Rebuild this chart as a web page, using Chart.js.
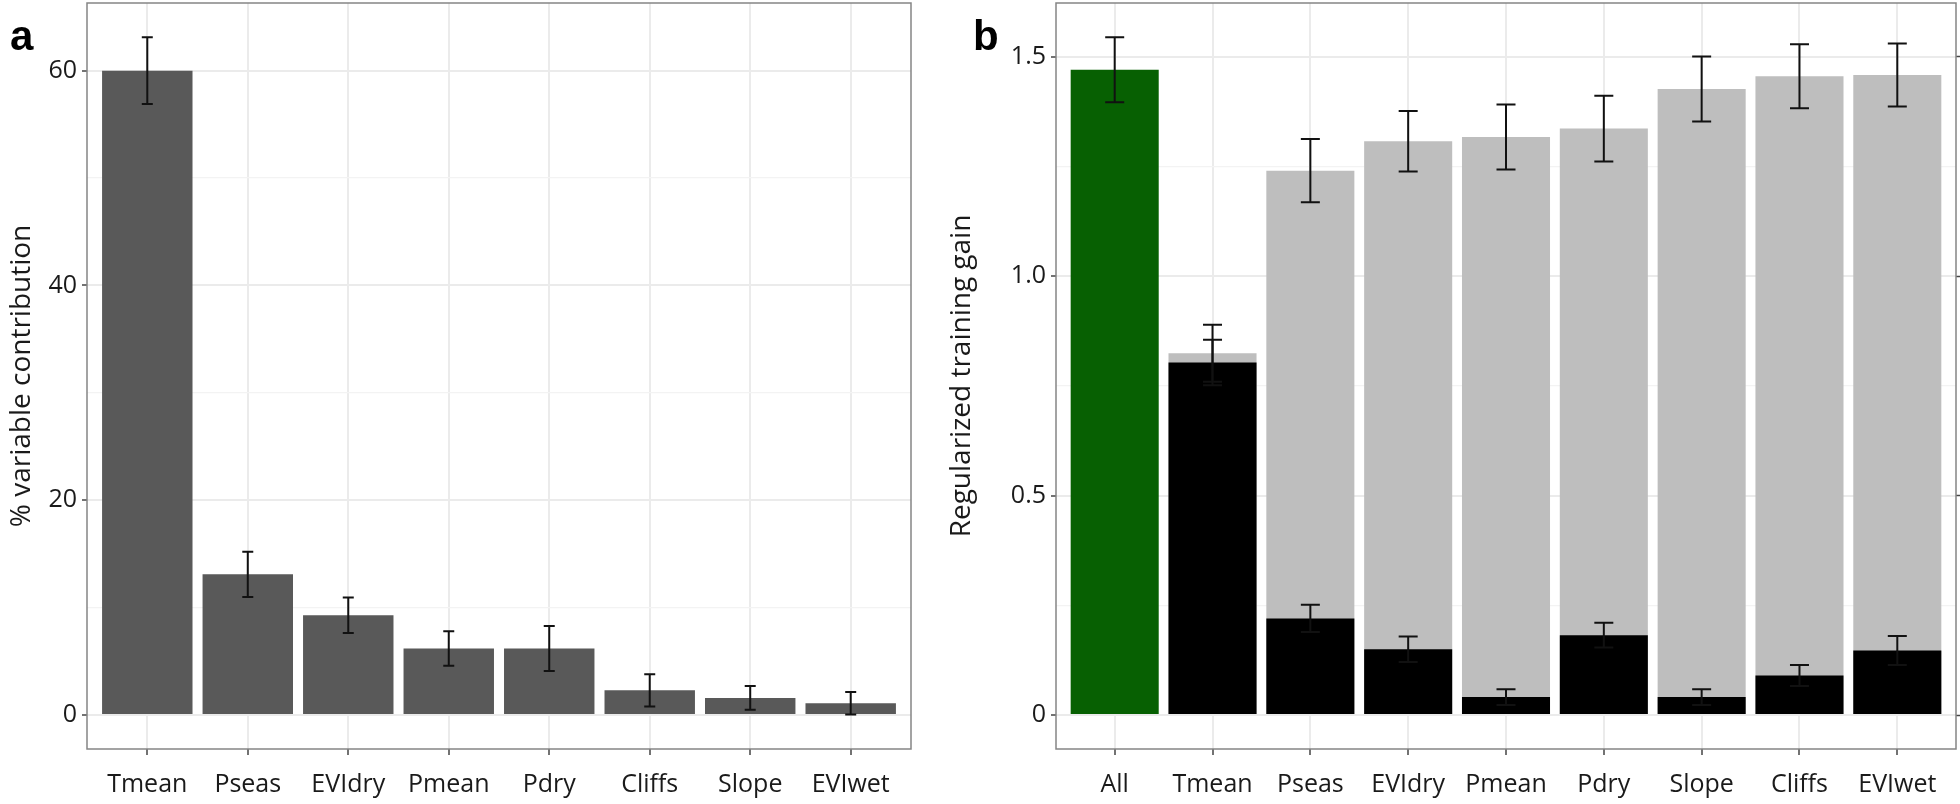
<!DOCTYPE html>
<html>
<head>
<meta charset="utf-8">
<script src="https://cdn.jsdelivr.net/npm/chart.js@4.4.1/dist/chart.umd.min.js"></script>
<style>
  html, body { margin: 0; padding: 0; background: #fff; }
  body { width: 1960px; height: 804px; position: relative; overflow: hidden; }
  canvas { position: absolute; top: 0; }
  #panelA { left: 0; }
  #panelB { left: 940px; }
</style>
</head>
<body>
<canvas id="panelA" width="940" height="804"></canvas>
<canvas id="panelB" width="1020" height="804"></canvas>
<script>
/* ---------- data: panel a ---------- */
const categoriesA = ["Tmean", "Pseas", "EVIdry", "Pmean", "Pdry", "Cliffs", "Slope", "EVIwet"];
const contribution = [60.0, 13.1, 9.3, 6.2, 6.2, 2.3, 1.6, 1.1];
const contributionErr = [3.1, 2.1, 1.65, 1.6, 2.1, 1.5, 1.1, 1.05];
const ticksA = [0, 10, 20, 30, 40, 50, 60];

/* ---------- data: panel b ---------- */
const categoriesB = ["All", "Tmean", "Pseas", "EVIdry", "Pmean", "Pdry", "Slope", "Cliffs", "EVIwet"];
const allGain = [1.47];
const allErr = [0.074];
// variables 1..8 (Tmean .. EVIwet)
const withoutGain = [0.824, 1.240, 1.307, 1.317, 1.336, 1.426, 1.455, 1.458];
const withoutErr = [0.065, 0.072, 0.069, 0.074, 0.075, 0.074, 0.073, 0.072];
const onlyGain = [0.803, 0.220, 0.150, 0.041, 0.182, 0.041, 0.090, 0.147];
const onlyErr = [0.052, 0.031, 0.029, 0.018, 0.028, 0.018, 0.024, 0.033];
const ticksB = [0, 0.25, 0.5, 0.75, 1.0, 1.25, 1.5];
const labelsB = { 0: "0", 0.5: "0.5", 1: "1.0", 1.5: "1.5" };

/* ---------- shared styling ---------- */
const GRID = "#ebebeb";
const GRID_MINOR = "#f3f3f3";
const TICK = "#444444";
const TEXT = "#1a1a1a";
const tickFont = { family: "'Open Sans'", size: 25 };
const titleFont = { family: "'Open Sans'", size: 28 };

Chart.defaults.animation = false;
Chart.defaults.plugins.legend.display = false;
Chart.defaults.plugins.tooltip.enabled = false;

function points(values, offset) {
    return values.map((v, i) => ({ x: i + offset, y: v }));
}

// error bars + panel box + panel letter
function panelPlugin(letter, letterX, errorSets) {
    return {
        id: "panel" + letter,
        afterDatasetsDraw(chart) {
            const ctx = chart.ctx;
            const xs = chart.scales.x, ys = chart.scales.y;
            ctx.save();
            ctx.strokeStyle = "#111";
            ctx.lineWidth = 2;
            errorSets.forEach(set => {
                set.values.forEach((v, i) => {
                    const px = xs.getPixelForValue(i + set.offset);
                    const top = ys.getPixelForValue(v + set.errs[i]);
                    const bot = ys.getPixelForValue(v - set.errs[i]);
                    const h = set.cap / 2;
                    ctx.beginPath();
                    ctx.moveTo(px, top); ctx.lineTo(px, bot);
                    ctx.moveTo(px - h, top); ctx.lineTo(px + h, top);
                    ctx.moveTo(px - h, bot); ctx.lineTo(px + h, bot);
                    ctx.stroke();
                });
            });
            ctx.restore();
        },
        afterDraw(chart) {
            const ctx = chart.ctx;
            const a = chart.chartArea;
            ctx.save();
            ctx.strokeStyle = "#858585";
            ctx.lineWidth = 1.5;
            ctx.strokeRect(a.left, a.top, a.right - a.left, a.bottom - a.top);
            ctx.fillStyle = "#000";
            ctx.font = "bold 42px 'Liberation Sans'";
            ctx.textBaseline = "alphabetic";
            ctx.fillText(letter, letterX, 50);
            ctx.restore();
        }
    };
}

function xAxis(categories) {
    return {
        type: "linear",
        offset: false,
        min: -0.6,
        max: categories.length - 0.4,
        afterBuildTicks: s => { s.ticks = categories.map((_, i) => ({ value: i })); },
        afterFit: s => { s.height = 55; },
        border: { display: false },
        grid: { offset: false, color: GRID, lineWidth: 2, tickColor: TICK, tickLength: 6, tickWidth: 1.5 },
        ticks: {
            autoSkip: false, maxRotation: 0, padding: 15,
            color: TEXT, font: tickFont,
            callback: v => categories[v]
        }
    };
}

function yAxis(min, max, tickVals, isMajor, label, title, width, titlePad) {
    return {
        type: "linear",
        min: min,
        max: max,
        afterBuildTicks: s => { s.ticks = tickVals.map(v => ({ value: v })); },
        afterFit: s => { s.width = width; s.paddingTop = 0; s.paddingBottom = 0; },
        border: { display: false },
        grid: {
            color: c => isMajor(c.tick.value) ? GRID : GRID_MINOR,
            lineWidth: c => isMajor(c.tick.value) ? 2 : 1.2,
            tickColor: c => isMajor(c.tick.value) ? TICK : "rgba(0,0,0,0)",
            tickLength: 5,
            tickWidth: 1.5
        },
        ticks: { padding: 5, color: TEXT, font: tickFont, callback: label },
        title: { display: true, text: title, color: TEXT, font: titleFont, padding: { top: titlePad, bottom: 0 } }
    };
}

/* ---------- panel a ---------- */
new Chart(document.getElementById("panelA"), {
    type: "bar",
    data: {
        datasets: [{
            data: points(contribution, 0),
            backgroundColor: "#595959",
            categoryPercentage: 1,
            barPercentage: 0.9
        }]
    },
    options: {
        responsive: false,
        layout: { padding: { top: 3, right: 29, left: 0, bottom: 0 } },
        scales: {
            x: xAxis(categoriesA),
            y: yAxis(-3.16, 66.3, ticksA, v => v % 20 === 0,
                v => (v % 20 === 0 ? String(v) : ""), "% variable contribution", 87, 5)
        }
    },
    plugins: [panelPlugin("a", 10, [
        { values: contribution, errs: contributionErr, offset: 0, cap: 11 }
    ])]
});

/* ---------- panel b ---------- */
const majorB = v => Math.abs(v * 2 - Math.round(v * 2)) < 1e-9;
const yB = yAxis(-0.0773, 1.622, ticksB, majorB,
    v => (labelsB[v] !== undefined ? labelsB[v] : ""), "Regularized training gain", 116, 5);

new Chart(document.getElementById("panelB"), {
    type: "bar",
    data: {
        datasets: [
            { data: points(allGain, 0), backgroundColor: "#076002", order: 3,
              grouped: false, categoryPercentage: 1, barPercentage: 0.9 },
            { data: points(withoutGain, 1), backgroundColor: "#bebebe", order: 2,
              grouped: false, categoryPercentage: 1, barPercentage: 0.9 },
            { data: points(onlyGain, 1), backgroundColor: "#000000", order: 1,
              grouped: false, categoryPercentage: 1, barPercentage: 0.9 }
        ]
    },
    options: {
        responsive: false,
        layout: { padding: { top: 3, right: 0, left: 0, bottom: 0 } },
        scales: {
            x: xAxis(categoriesB),
            y: yB,
            y2: {
                type: "linear",
                position: "right",
                min: -0.0773,
                max: 1.622,
                afterBuildTicks: s => { s.ticks = [0, 0.5, 1.0, 1.5].map(v => ({ value: v })); },
                afterFit: s => { s.width = 4; s.paddingTop = 0; s.paddingBottom = 0; },
                border: { display: false },
                grid: { drawOnChartArea: false, tickColor: TICK, tickLength: 4, tickWidth: 1.5 },
                ticks: { display: false }
            }
        }
    },
    plugins: [panelPlugin("b", 33, [
        { values: allGain, errs: allErr, offset: 0, cap: 19 },
        { values: withoutGain, errs: withoutErr, offset: 1, cap: 19 },
        { values: onlyGain, errs: onlyErr, offset: 1, cap: 19 }
    ])]
});
</script>
</body>
</html>
